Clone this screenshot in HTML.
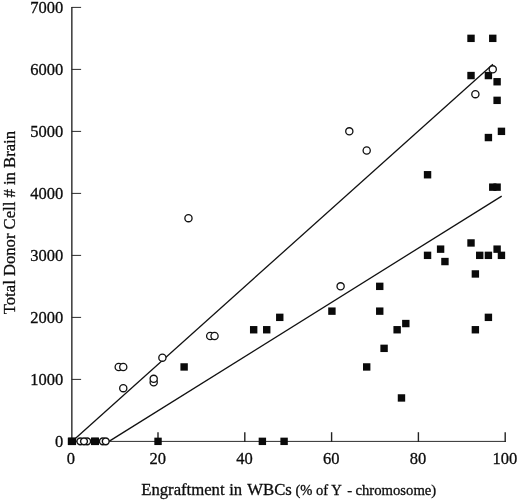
<!DOCTYPE html>
<html><head><meta charset="utf-8"><title>chart</title>
<style>
html,body{margin:0;padding:0;background:#fff;}
body{width:520px;height:501px;overflow:hidden;}
svg{display:block;filter:grayscale(1) blur(0.3px);}
text{font-family:"Liberation Serif",serif;fill:#0c0c0c;stroke:#0c0c0c;stroke-width:0.3px;}
</style></head><body>
<svg width="520" height="501" viewBox="0 0 520 501">
<rect width="520" height="501" fill="#fff"/>

<g stroke="#222" fill="none">
<path d="M71.85 7.0 V441.8" stroke-width="1.35"/>
<path d="M71.2 441.4 H505.8" stroke-width="0.95"/>
<path d="M71.6 379.4 H81.1" stroke-width="0.95"/>
<path d="M71.6 317.4 H81.1" stroke-width="0.95"/>
<path d="M71.6 255.4 H81.1" stroke-width="0.95"/>
<path d="M71.6 193.4 H81.1" stroke-width="0.95"/>
<path d="M71.6 131.4 H81.1" stroke-width="0.95"/>
<path d="M71.6 69.4 H81.1" stroke-width="0.95"/>
<path d="M71.6 7.4 H81.1" stroke-width="0.95"/>
<path d="M158.0 441.9 V432.2" stroke-width="1.4"/>
<path d="M244.8 441.9 V432.2" stroke-width="1.4"/>
<path d="M331.6 441.9 V432.2" stroke-width="1.4"/>
<path d="M418.4 441.9 V432.2" stroke-width="1.4"/>
<path d="M505.2 441.9 V432.2" stroke-width="1.4"/>
</g>
<g stroke="#111" stroke-width="1.3" fill="none">
<path d="M72 441.4 L492.9 64.2"/>
<path d="M109 441.4 L501.7 196.1"/>
</g>
<g fill="#0a0a0a">
<rect x="67.8" y="437.65" width="8.3" height="7.4"/>
<rect x="91.0" y="437.65" width="8.0" height="7.4"/>
<rect x="68.20" y="437.65" width="7.4" height="7.4"/>
<rect x="91.30" y="437.65" width="7.4" height="7.4"/>
<rect x="154.34" y="437.65" width="7.4" height="7.4"/>
<rect x="258.67" y="437.65" width="7.4" height="7.4"/>
<rect x="280.40" y="437.65" width="7.4" height="7.4"/>
<rect x="180.42" y="363.25" width="7.4" height="7.4"/>
<rect x="249.97" y="326.05" width="7.4" height="7.4"/>
<rect x="263.02" y="326.05" width="7.4" height="7.4"/>
<rect x="276.06" y="313.65" width="7.4" height="7.4"/>
<rect x="328.22" y="307.45" width="7.4" height="7.4"/>
<rect x="363.00" y="363.25" width="7.4" height="7.4"/>
<rect x="376.04" y="282.65" width="7.4" height="7.4"/>
<rect x="376.04" y="307.45" width="7.4" height="7.4"/>
<rect x="380.38" y="344.65" width="7.4" height="7.4"/>
<rect x="393.43" y="326.05" width="7.4" height="7.4"/>
<rect x="402.12" y="319.85" width="7.4" height="7.4"/>
<rect x="397.77" y="394.25" width="7.4" height="7.4"/>
<rect x="423.85" y="171.05" width="7.4" height="7.4"/>
<rect x="423.85" y="251.65" width="7.4" height="7.4"/>
<rect x="436.90" y="245.45" width="7.4" height="7.4"/>
<rect x="441.24" y="257.85" width="7.4" height="7.4"/>
<rect x="467.32" y="34.65" width="7.4" height="7.4"/>
<rect x="489.06" y="34.65" width="7.4" height="7.4"/>
<rect x="467.32" y="71.85" width="7.4" height="7.4"/>
<rect x="484.71" y="71.85" width="7.4" height="7.4"/>
<rect x="493.41" y="78.05" width="7.4" height="7.4"/>
<rect x="493.41" y="96.65" width="7.4" height="7.4"/>
<rect x="497.75" y="127.65" width="7.4" height="7.4"/>
<rect x="484.71" y="133.85" width="7.4" height="7.4"/>
<rect x="489.06" y="183.45" width="7.4" height="7.4"/>
<rect x="493.41" y="183.45" width="7.4" height="7.4"/>
<rect x="467.32" y="239.25" width="7.4" height="7.4"/>
<rect x="493.41" y="245.45" width="7.4" height="7.4"/>
<rect x="476.02" y="251.65" width="7.4" height="7.4"/>
<rect x="484.71" y="251.65" width="7.4" height="7.4"/>
<rect x="497.75" y="251.65" width="7.4" height="7.4"/>
<rect x="471.67" y="270.25" width="7.4" height="7.4"/>
<rect x="484.71" y="313.65" width="7.4" height="7.4"/>
<rect x="471.67" y="326.05" width="7.4" height="7.4"/>
</g>
<g fill="#fff" stroke="#111" stroke-width="1.3">
<circle cx="80.30" cy="441.35" r="3.4" stroke-width="1.45"/>
<circle cx="87.20" cy="441.35" r="3.4" stroke-width="1.45"/>
<circle cx="84.00" cy="441.35" r="3.4" stroke-width="1.45"/>
<circle cx="102.80" cy="441.35" r="3.4" stroke-width="1.45"/>
<circle cx="105.75" cy="441.35" r="3.4" stroke-width="1.45"/>
<circle cx="118.70" cy="366.95" r="3.6"/>
<circle cx="123.26" cy="366.95" r="3.6"/>
<circle cx="123.26" cy="388.15" r="3.6"/>
<circle cx="153.69" cy="382.33" r="3.6"/>
<circle cx="153.69" cy="378.85" r="3.6"/>
<circle cx="162.39" cy="357.65" r="3.6"/>
<circle cx="188.47" cy="218.15" r="3.6"/>
<circle cx="210.20" cy="335.95" r="3.6"/>
<circle cx="214.55" cy="335.95" r="3.6"/>
<circle cx="340.61" cy="286.35" r="3.6"/>
<circle cx="349.31" cy="131.35" r="3.6"/>
<circle cx="366.70" cy="150.45" r="3.6"/>
<circle cx="475.37" cy="94.15" r="3.6"/>
<circle cx="492.76" cy="69.35" r="3.6"/>
</g>
<g font-size="16.5" text-anchor="end">
<text x="63.2" y="447.0">0</text>
<text x="63.2" y="385.0">1000</text>
<text x="63.2" y="323.0">2000</text>
<text x="63.2" y="261.0">3000</text>
<text x="63.2" y="199.0">4000</text>
<text x="63.2" y="137.0">5000</text>
<text x="63.2" y="75.0">6000</text>
<text x="63.2" y="13.0">7000</text>
</g>
<g font-size="16.5" text-anchor="middle">
<text x="70.9" y="464.4">0</text>
<text x="157.7" y="464.4">20</text>
<text x="244.5" y="464.4">40</text>
<text x="331.3" y="464.4">60</text>
<text x="418.1" y="464.4">80</text>
<text x="504.9" y="464.4">100</text>
</g>
<g font-size="16.7">
<text x="141.2" y="495.3">Engraftment</text>
<text x="229.2" y="495.3">in</text>
<text x="247.3" y="495.3">WBCs</text>
</g>
<text x="295.4" y="495.3" font-size="14.6">(% of Y</text>
<text x="347.3" y="495.3" font-size="14.8">-</text>
<text x="355.5" y="495.3" font-size="14.7">chromosome)</text>
<text transform="translate(15.3 314.2) rotate(-90)" font-size="16.65">Total Donor Cell # in Brain</text>
</svg></body></html>
